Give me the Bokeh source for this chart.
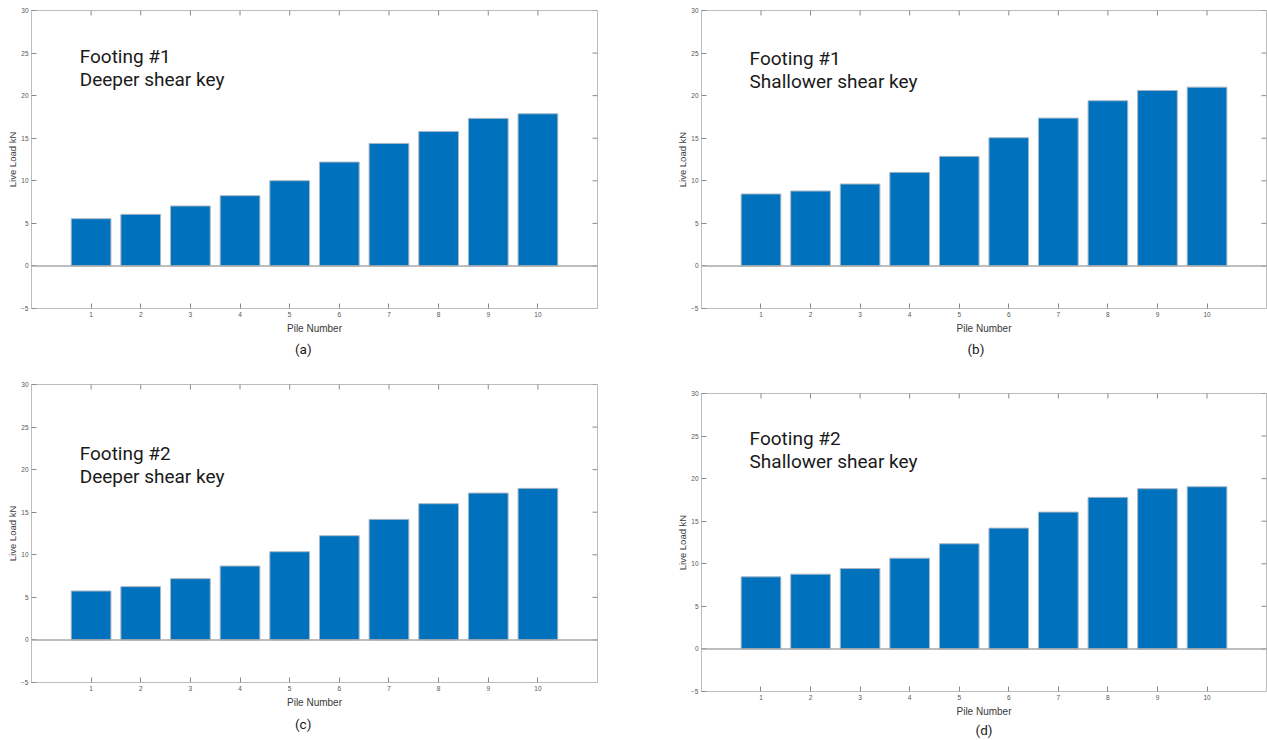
from bokeh.plotting import figure
from bokeh.layouts import column, row
from bokeh.models import Range1d, Span, Title, ColumnDataSource, Spacer
from bokeh.core.properties import value
from bokeh.embed import file_html
from bokeh.resources import INLINE

# Pile numbers and live load per pile (kN)
piles = [1, 2, 3, 4, 5, 6, 7, 8, 9, 10]
load_f1_deeper = [5.55, 6.06, 7.04, 8.25, 10.01, 12.20, 14.39, 15.80, 17.33, 17.87]
load_f1_shallower = [8.45, 8.80, 9.62, 10.99, 12.87, 15.06, 17.36, 19.40, 20.61, 21.00]
load_f2_deeper = [5.75, 6.26, 7.20, 8.68, 10.36, 12.24, 14.16, 16.00, 17.25, 17.80]
load_f2_shallower = [8.47, 8.78, 9.45, 10.66, 12.35, 14.19, 16.07, 17.80, 18.82, 19.05]

y_ticks = [-5, 0, 5, 10, 15, 20, 25, 30]
headings = [
    ("Footing #1", "Deeper shear key"),
    ("Footing #1", "Shallower shear key"),
    ("Footing #2", "Deeper shear key"),
    ("Footing #2", "Shallower shear key"),
]
captions = ["(a)", "(b)", "(c)", "(d)"]
x_label = "Pile Number"
y_label = "Live Load kN"

X_LO, X_HI = -0.2, 11.2
Y_LO, Y_HI = -5, 30
FRAME_H = 298
TICK_PX = 5

BAR = "#0072BD"
EDGE = "#a9b6c4"
FRAME = "#bdbdbd"
TICK = "#8a8a8a"
BASELINE = "#a8a8a8"
LABEL = "#3a3a3a"
TICK_LABEL = "#555555"
AX_FONT = "Liberation Sans"
HEAD_FONT = "Roboto"


def make_panel(loads, heading, caption, left, right, top, bottom, frame_w,
               head_y, cap_shift, cap_standoff):
    p = figure(frame_width=frame_w, frame_height=FRAME_H,
               x_range=Range1d(X_LO, X_HI), y_range=Range1d(Y_LO, Y_HI),
               min_border_left=left, min_border_right=right,
               min_border_top=top, min_border_bottom=bottom,
               toolbar_location=None, output_backend="svg",
               background_fill_color="white", border_fill_color="white",
               outline_line_color=FRAME, outline_line_width=1)
    p.grid.visible = False

    src = ColumnDataSource(dict(pile=piles, load=loads))
    p.vbar(x="pile", top="load", bottom=0, width=0.8, source=src,
           fill_color=BAR, line_color=EDGE, line_width=1)
    p.add_layout(Span(location=0, dimension="width",
                      line_color=BASELINE, line_width=1.6))

    # axes with inward ticks
    for ax, ticks in ((p.xaxis[0], piles), (p.yaxis[0], y_ticks)):
        ax.ticker = ticks
        ax.axis_line_color = FRAME
        ax.major_tick_in = TICK_PX
        ax.major_tick_out = 0
        ax.major_tick_line_color = TICK
        ax.minor_tick_line_color = None
        ax.major_label_text_font = AX_FONT
        ax.major_label_text_font_size = "6.5px"
        ax.major_label_text_color = TICK_LABEL
        ax.axis_label_text_font = AX_FONT
        ax.axis_label_text_font_style = "normal"
        ax.axis_label_text_color = LABEL
    p.xaxis.major_label_standoff = 3
    p.yaxis.major_label_standoff = 3
    p.xaxis.axis_label = x_label
    p.xaxis.axis_label_text_font_size = "10px"
    p.xaxis.axis_label_standoff = 3
    p.yaxis.axis_label = y_label
    p.yaxis.axis_label_text_font_size = "9.5px"
    p.yaxis.axis_label_standoff = 0

    # inward tick marks on the top and right sides of the box
    dy = TICK_PX * (Y_HI - Y_LO) / FRAME_H
    dx = TICK_PX * (X_HI - X_LO) / frame_w
    p.segment(x0=piles, x1=piles, y0=[Y_HI] * len(piles),
              y1=[Y_HI - dy] * len(piles), line_color=TICK, line_width=1)
    p.segment(x0=[X_HI] * len(y_ticks), x1=[X_HI - dx] * len(y_ticks),
              y0=y_ticks, y1=y_ticks, line_color=TICK, line_width=1)

    p.text(x=[0.77, 0.77], y=list(head_y), text=list(heading),
           text_font=value(HEAD_FONT), text_font_size="19px",
           text_baseline="alphabetic", text_align="left",
           text_color="#1a1a1a")

    if cap_shift:
        cap = Title(text=caption, align="left",
                    offset=frame_w / 2 - 8.5 + cap_shift)
    else:
        cap = Title(text=caption, align="center")
    cap.text_font = HEAD_FONT
    cap.text_font_size = "13.5px"
    cap.text_font_style = "normal"
    cap.text_color = "#1a1a1a"
    cap.standoff = cap_standoff
    p.add_layout(cap, "below")
    return p


pa = make_panel(load_f1_deeper, headings[0], captions[0],
                31, 43, 10, 62, 566, (24.65, 21.95), -11, 4)
pb = make_panel(load_f1_shallower, headings[1], captions[1],
                61, 1, 10, 62, 565, (24.35, 21.65), -8, 4)
pc = make_panel(load_f2_deeper, headings[2], captions[2],
                31, 43, 14, 56, 566, (21.85, 19.15), -11, 7)
pd = make_panel(load_f2_shallower, headings[3], captions[3],
                61, 1, 14, 47, 565, (24.75, 22.05), 0, 0)

layout = column(row(pa, pb), row(pc, column(Spacer(height=9), pd)))
open("out.html", "w").write(file_html(layout, INLINE))
